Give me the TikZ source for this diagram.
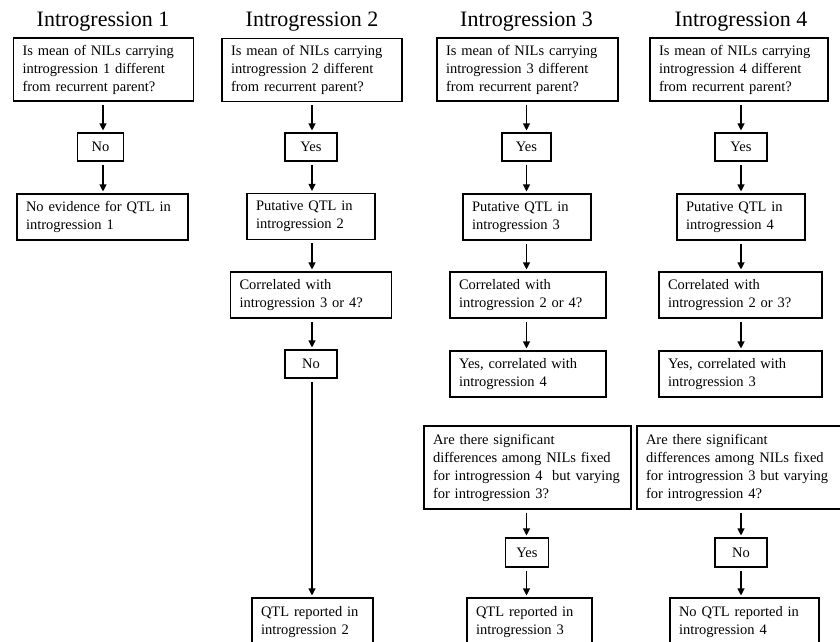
\documentclass[tikz,border=0pt]{standalone}
\usepackage{fontspec}
\setmainfont{Liberation Serif}
\usetikzlibrary{arrows.meta}

\begin{document}
\begin{tikzpicture}[x=1pt,y=-1pt,font=\fontsize{14.5}{18}\selectfont,
    qbox/.style 2 args={draw,line width=1.1pt,align=left,inner xsep=9pt,inner ysep=0pt,
      text width=#1,minimum height=#2},
    yn/.style={draw,line width=1.1pt,inner sep=0pt,minimum width=#1,minimum height=28pt},
    ttl/.style={font=\fontsize{22}{26}\selectfont,anchor=base},
    a/.style={-{Triangle[length=7pt,width=7pt]},line width=1.1pt,shorten <=3pt,shorten >=2pt}]
    \useasboundingbox (0,0) rectangle (840,642);
    \clip (0,0) rectangle (840,642);

    % column titles
    \foreach \x/\i in {103/1,312/2,526.5/3,741/4}
      {\node[ttl] (t\i) at (\x,27) {Introgression \i};}

    % first question in every column
    \node[qbox={162pt}{63pt}] (q1) at (103.5,69.5)
      {Is mean of NILs carrying\\introgression 1 different\\from recurrent parent?};
    \node[qbox={162pt}{63pt}] (q2) at (312,70)
      {Is mean of NILs carrying\\introgression 2 different\\from recurrent parent?};
    \node[qbox={163pt}{63pt}] (q3) at (527.5,69.5)
      {Is mean of NILs carrying\\introgression 3 different\\from recurrent parent?};
    \node[qbox={160pt}{63pt}] (q4) at (739,69.5)
      {Is mean of NILs carrying\\introgression 4 different\\from recurrent parent?};

    \node[yn=46pt] (no1) at (100.5,147) {No};
    \node[yn=52pt] (yes2) at (311,147) {Yes};
    \node[yn=49pt] (yes3) at (526.5,147) {Yes};
    \node[yn=52pt] (yes4) at (741,147) {Yes};

    \node[qbox={153pt}{46pt}] (ne1) at (102.5,217) {No evidence for QTL in\\introgression 1};
    \node[qbox={110pt}{46pt}] (put2) at (311,216.5) {Putative QTL in\\introgression 2};
    \node[qbox={110pt}{46pt}] (put3) at (527,217) {Putative QTL in\\introgression 3};
    \node[qbox={110pt}{46pt}] (put4) at (741,217) {Putative QTL in\\introgression 4};

    \node[qbox={143pt}{46pt}] (cor2) at (311,295) {Correlated with\\introgression 3 or 4?};
    \node[qbox={138pt}{46pt}] (cor3) at (528,295) {Correlated with\\introgression 2 or 4?};
    \node[qbox={145pt}{46pt}] (cor4) at (740.5,295) {Correlated with\\introgression 2 or 3?};

    \node[yn=52pt] (no2) at (311,364) {No};
    \node[qbox={138pt}{46pt}] (yc3) at (528,374) {Yes, correlated with\\introgression 4};
    \node[qbox={145pt}{46pt}] (yc4) at (740.5,374) {Yes, correlated with\\introgression 3};

    % second test for the correlated pair
    \node[qbox={189pt}{83pt}] (ar3) at (527.5,467.5)
      {Are there significant\\differences among NILs fixed\\for introgression 4~ but varying\\for introgression 3?};
    \node[qbox={186pt}{83pt}] (ar4) at (739,467.5)
      {Are there significant\\differences among NILs fixed\\for introgression 3 but varying\\for introgression 4?};

    \node[yn=43pt,minimum height=29pt] (yes3b) at (527,552.5) {Yes};
    \node[yn=52pt,minimum height=29pt] (no4b) at (741,552.5) {No};

    \node[qbox={103pt}{48pt}] (qtl2) at (312.5,622) {QTL reported in\\introgression 2};
    \node[qbox={107pt}{48pt}] (qtl3) at (529.5,622) {QTL reported in\\introgression 3};
    \node[qbox={131pt}{48pt}] (nq4) at (744.5,622) {No QTL reported in\\introgression 4};

    % arrows run straight down each column
    \foreach \u/\v/\c in {q1/no1/t1,no1/ne1/t1,
        q2/yes2/t2,yes2/put2/t2,put2/cor2/t2,cor2/no2/t2,no2/qtl2/t2,
        q3/yes3/t3,yes3/put3/t3,put3/cor3/t3,cor3/yc3/t3,ar3/yes3b/t3,yes3b/qtl3/t3,
        q4/yes4/t4,yes4/put4/t4,put4/cor4/t4,cor4/yc4/t4,ar4/no4b/t4,no4b/nq4/t4}
      {\draw[a] (\u.south -| \c) -- (\v.north -| \c);}
\end{tikzpicture}
\end{document}
